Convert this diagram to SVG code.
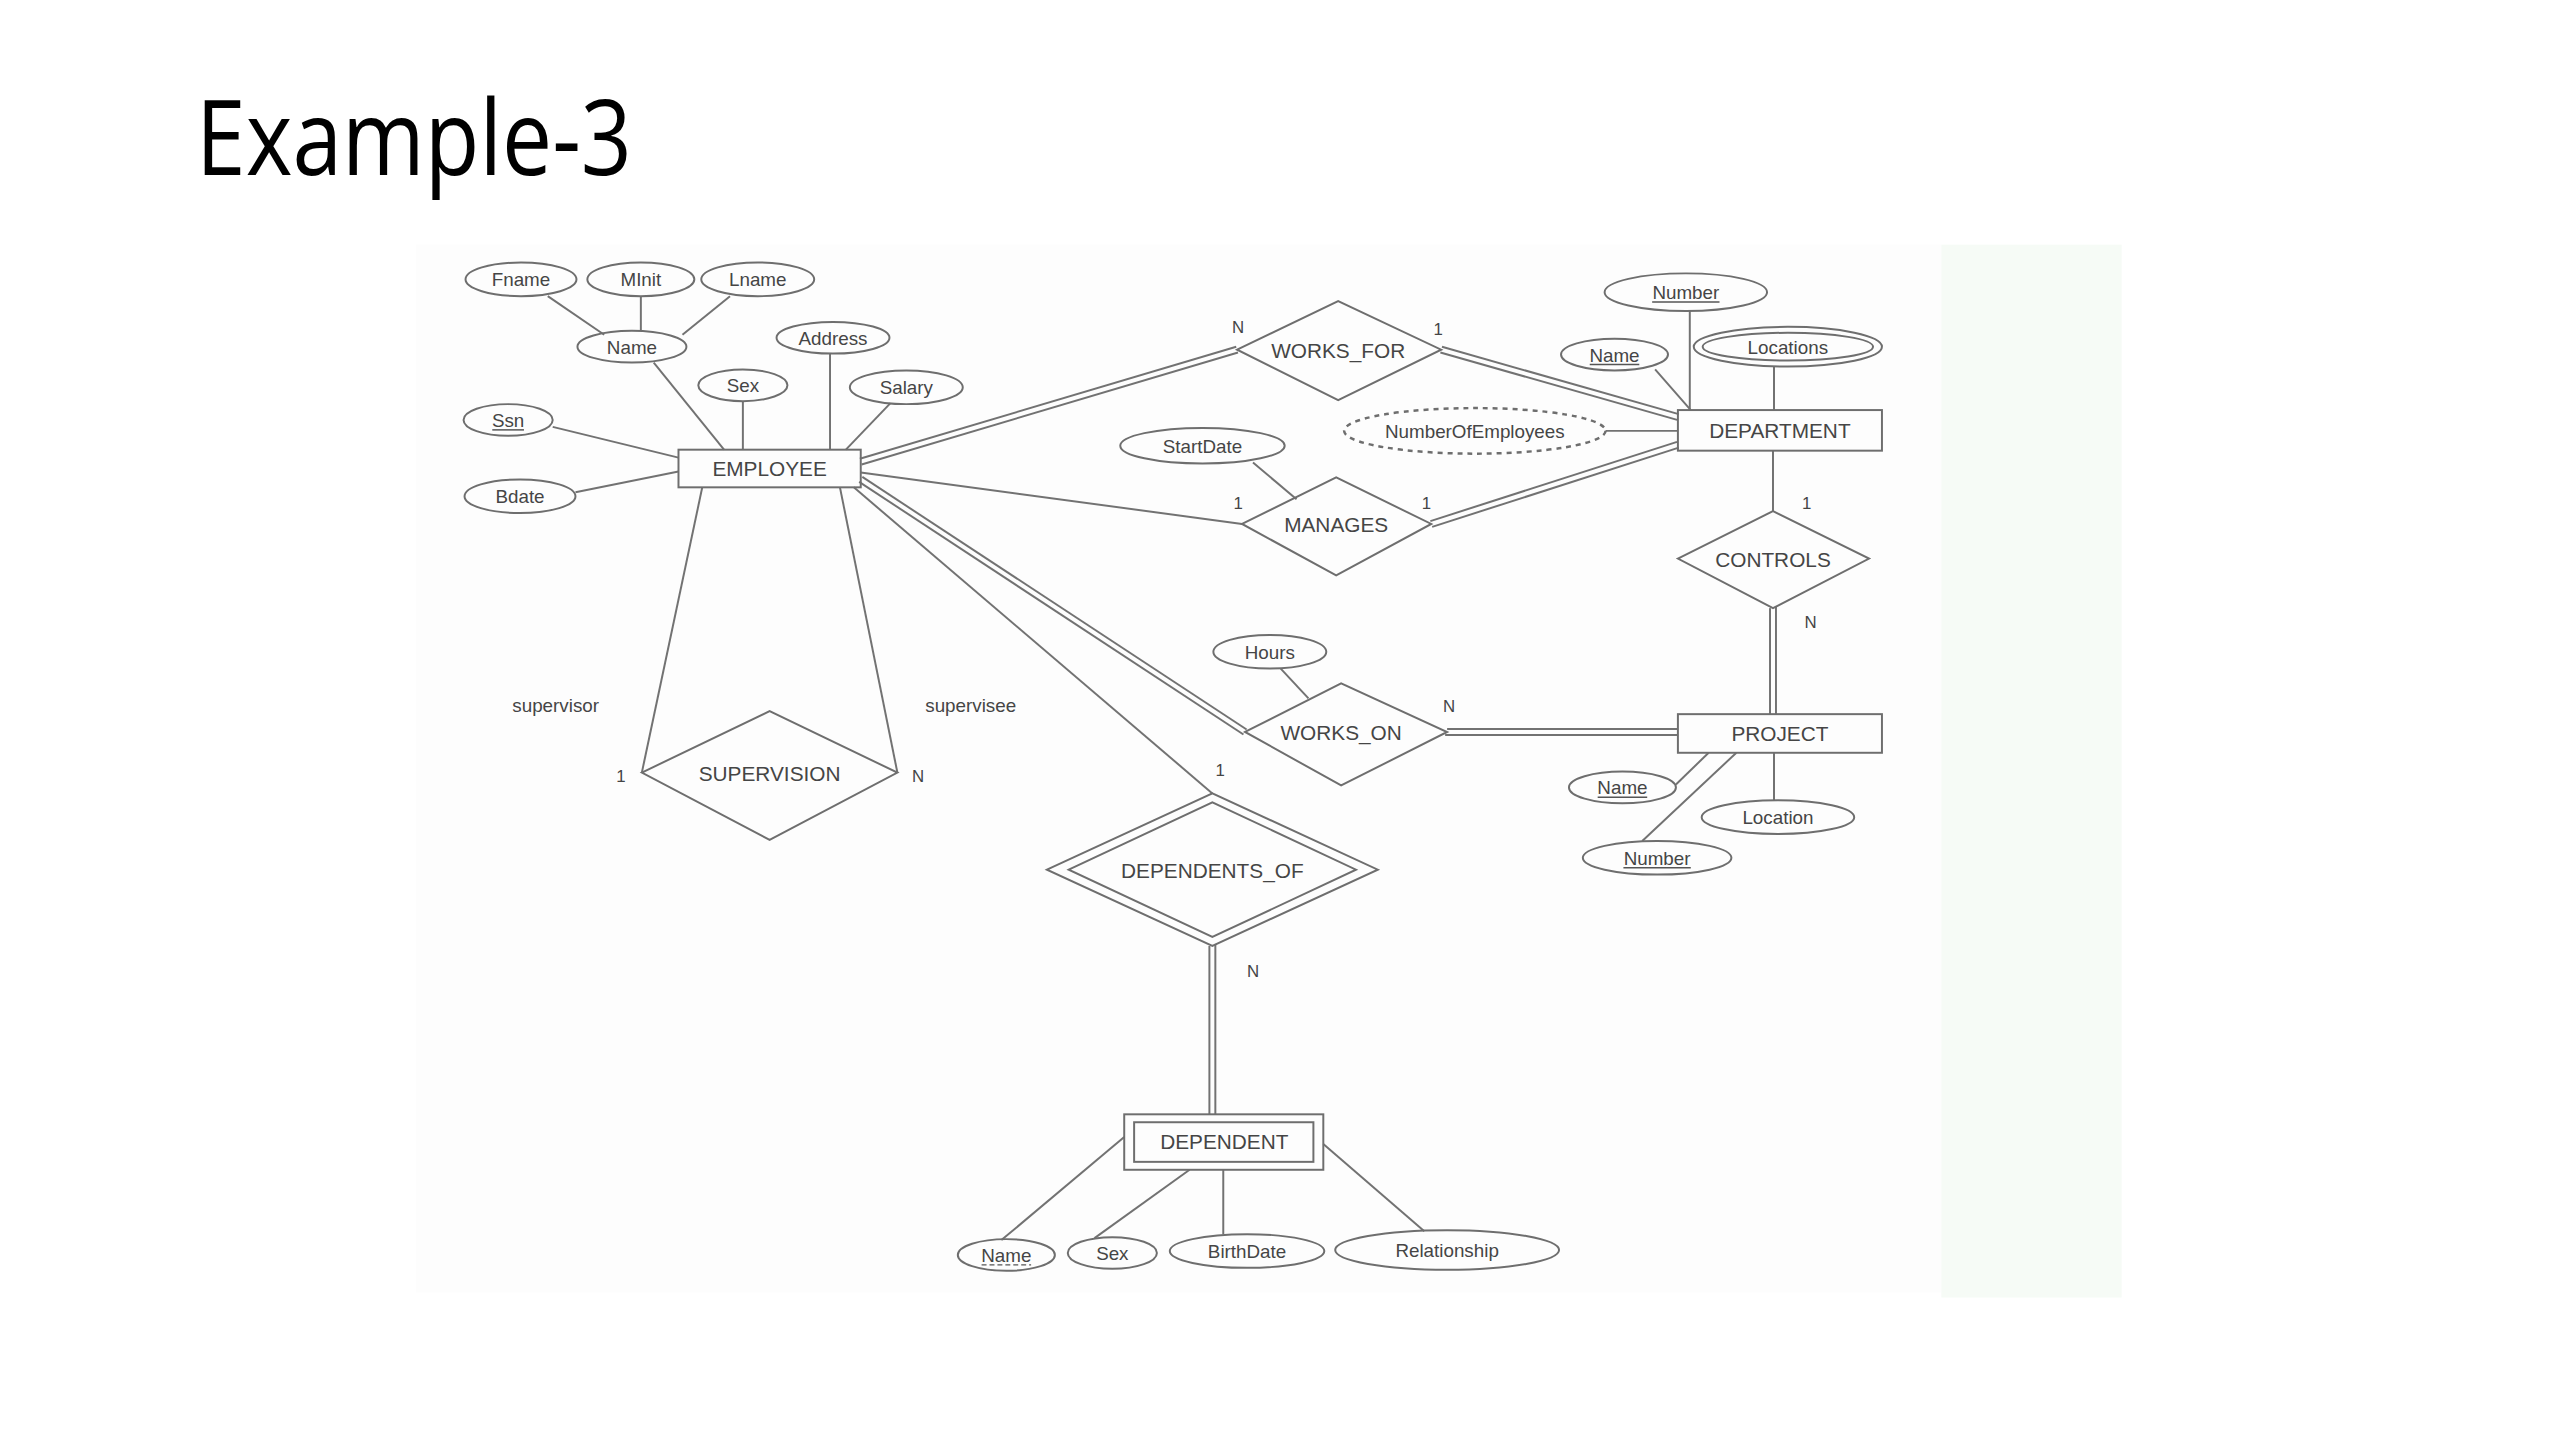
<svg xmlns="http://www.w3.org/2000/svg" width="2560" height="1440" viewBox="0 0 2560 1440">
<style>
.sh{fill:none;stroke:#6e6e6e;stroke-width:2}
.ln{stroke:#727272;stroke-width:2;fill:none}
.dash{fill:none;stroke:#6e6e6e;stroke-width:2.5;stroke-dasharray:5 5}
.ul{stroke:#555;stroke-width:1.5}
.uld{stroke:#555;stroke-width:1.5;stroke-dasharray:5 3}
text{font-family:"Liberation Sans",Arial,sans-serif;fill:#454545;text-anchor:middle}
.big{font-size:21px}
.att{font-size:19px}
.card{font-size:17px}
.title{font-family:"Open Sans","Noto Sans",sans-serif;font-size:106px;fill:#000;text-anchor:start}
</style>
<rect width="2560" height="1440" fill="#ffffff"/>
<g id="page" transform="scale(0.9905)">
<rect x="420" y="247" width="1540" height="1058" fill="#fdfdfd"/>
<rect x="1960" y="247" width="182" height="1063" fill="#f6fbf6"/>
<text class="title" x="198" y="177" textLength="440" lengthAdjust="spacingAndGlyphs">Example-3</text>

<g id="connectors">
<line class="ln" x1="553" y1="299" x2="610" y2="338"/>
<line class="ln" x1="647" y1="299" x2="647" y2="334"/>
<line class="ln" x1="737" y1="299" x2="689" y2="338"/>
<line class="ln" x1="660" y1="366" x2="731" y2="454"/>
<line class="ln" x1="750" y1="405" x2="750" y2="454"/>
<line class="ln" x1="838" y1="357" x2="838" y2="454"/>
<line class="ln" x1="899" y1="407" x2="854" y2="454"/>
<line class="ln" x1="558" y1="431" x2="685" y2="462"/>
<line class="ln" x1="581" y1="497" x2="685" y2="476"/>
<line class="ln" x1="868.1" y1="463.1" x2="1248.1" y2="350.1"/>
<line class="ln" x1="869.9" y1="468.9" x2="1249.9" y2="355.9"/>
<line class="ln" x1="1455.8" y1="350.1" x2="1694.8" y2="418.1"/>
<line class="ln" x1="1454.2" y1="355.9" x2="1693.2" y2="423.9"/>
<line class="ln" x1="869" y1="477" x2="1254" y2="529"/>
<line class="ln" x1="1444.1" y1="526.1" x2="1693.1" y2="446.1"/>
<line class="ln" x1="1445.9" y1="531.9" x2="1694.9" y2="451.9"/>
<line class="ln" x1="1265" y1="467" x2="1309" y2="504"/>
<line class="ln" x1="1671" y1="373" x2="1707" y2="414"/>
<line class="ln" x1="1706" y1="314" x2="1706" y2="414"/>
<line class="ln" x1="1791" y1="370" x2="1791" y2="414"/>
<line class="ln" x1="1621" y1="435" x2="1694" y2="435"/>
<line class="ln" x1="1790" y1="455" x2="1790" y2="516"/>
<line class="ln" x1="1787" y1="614" x2="1787" y2="721"/>
<line class="ln" x1="1793" y1="612" x2="1793" y2="721"/>
<line class="ln" x1="870.6" y1="481.5" x2="1258.6" y2="736.5"/>
<line class="ln" x1="867.4" y1="486.5" x2="1255.4" y2="741.5"/>
<line class="ln" x1="1461" y1="736" x2="1694" y2="736"/>
<line class="ln" x1="1459" y1="742" x2="1694" y2="742"/>
<line class="ln" x1="1293" y1="675" x2="1321" y2="705"/>
<line class="ln" x1="1692" y1="792" x2="1725" y2="760"/>
<line class="ln" x1="1658" y1="849" x2="1753" y2="760"/>
<line class="ln" x1="1791" y1="808" x2="1791" y2="760"/>
<line class="ln" x1="862" y1="492" x2="1224" y2="801"/>
<line class="ln" x1="1221" y1="955" x2="1221" y2="1125"/>
<line class="ln" x1="1227" y1="953" x2="1227" y2="1125"/>
<line class="ln" x1="709" y1="492" x2="648" y2="780"/>
<line class="ln" x1="848" y1="492" x2="906" y2="780"/>
<line class="ln" x1="1011" y1="1252" x2="1135" y2="1148"/>
<line class="ln" x1="1105" y1="1250" x2="1201" y2="1181"/>
<line class="ln" x1="1235" y1="1246" x2="1235" y2="1181"/>
<line class="ln" x1="1438" y1="1243" x2="1336" y2="1155"/>
<text class="card" x="1250" y="336">N</text>
<text class="card" x="1452" y="338">1</text>
<text class="card" x="1250" y="514">1</text>
<text class="card" x="1440" y="514">1</text>
<text class="card" x="1824" y="514">1</text>
<text class="card" x="1828" y="634">N</text>
<text class="card" x="1463" y="719">N</text>
<text class="card" x="1232" y="783">1</text>
<text class="card" x="1265" y="986">N</text>
<text class="card" x="627" y="790">1</text>
<text class="card" x="927" y="790">N</text>
<text class="att" x="561" y="719">supervisor</text>
<text class="att" x="980" y="719">supervisee</text>
</g>

<g id="employee">
<rect class="sh" x="685" y="454" width="184" height="38" fill="#fff"/>
<text class="big" x="777" y="481">EMPLOYEE</text>
</g>
<g id="emp-fname"><ellipse class="sh" cx="526" cy="282" rx="56" ry="17"/><text class="att" x="526" y="289">Fname</text></g>
<g id="emp-minit"><ellipse class="sh" cx="647" cy="282" rx="54" ry="17"/><text class="att" x="647" y="289">MInit</text></g>
<g id="emp-lname"><ellipse class="sh" cx="765" cy="282" rx="57" ry="17"/><text class="att" x="765" y="289">Lname</text></g>
<g id="emp-name"><ellipse class="sh" cx="638" cy="350" rx="55" ry="16"/><text class="att" x="638" y="357">Name</text></g>
<g id="emp-address"><ellipse class="sh" cx="841" cy="341" rx="57" ry="16"/><text class="att" x="841" y="348">Address</text></g>
<g id="emp-sex"><ellipse class="sh" cx="750" cy="389" rx="45" ry="16"/><text class="att" x="750" y="396">Sex</text></g>
<g id="emp-salary"><ellipse class="sh" cx="915" cy="391" rx="57" ry="17"/><text class="att" x="915" y="398">Salary</text></g>
<g id="emp-ssn"><ellipse class="sh" cx="513" cy="424" rx="45" ry="16"/><text class="att" x="513" y="431">Ssn</text><line class="ul" x1="497" y1="434" x2="529" y2="434"/></g>
<g id="emp-bdate"><ellipse class="sh" cx="525" cy="501" rx="56" ry="17"/><text class="att" x="525" y="508">Bdate</text></g>

<g id="works_for">
<polygon class="sh" points="1249,353 1351,304 1455,353 1351,404" fill="#fff"/>
<text class="big" x="1351" y="361">WORKS_FOR</text>
</g>
<g id="manages">
<polygon class="sh" points="1254,529 1349,482 1445,529 1349,581" fill="#fff"/>
<text class="big" x="1349" y="537">MANAGES</text>
</g>
<g id="mgr-startdate"><ellipse class="sh" cx="1214" cy="450" rx="83" ry="18"/><text class="att" x="1214" y="457">StartDate</text></g>

<g id="department">
<rect class="sh" x="1694" y="414" width="206" height="41" fill="#fff"/>
<text class="big" x="1797" y="442">DEPARTMENT</text>
</g>
<g id="dept-number"><ellipse class="sh" cx="1702" cy="295" rx="82" ry="19"/><text class="att" x="1702" y="302">Number</text><line class="ul" x1="1668" y1="305" x2="1736" y2="305"/></g>
<g id="dept-name"><ellipse class="sh" cx="1630" cy="358" rx="54" ry="16"/><text class="att" x="1630" y="365">Name</text><line class="ul" x1="1605" y1="368" x2="1655" y2="368"/></g>
<g id="dept-locations"><ellipse class="sh" cx="1805" cy="350" rx="95" ry="20"/><ellipse class="sh" cx="1805" cy="350" rx="86" ry="14"/><text class="att" x="1805" y="357">Locations</text></g>
<g id="dept-numemp"><ellipse class="dash" cx="1489" cy="435" rx="132" ry="23"/><text class="att" x="1489" y="442">NumberOfEmployees</text></g>

<g id="controls">
<polygon class="sh" points="1694,564 1790,516 1887,564 1790,614" fill="#fff"/>
<text class="big" x="1790" y="572">CONTROLS</text>
</g>

<g id="project">
<rect class="sh" x="1694" y="721" width="206" height="39" fill="#fff"/>
<text class="big" x="1797" y="748">PROJECT</text>
</g>
<g id="proj-name"><ellipse class="sh" cx="1638" cy="795" rx="54" ry="16"/><text class="att" x="1638" y="802">Name</text><line class="ul" x1="1613" y1="805" x2="1663" y2="805"/></g>
<g id="proj-location"><ellipse class="sh" cx="1795" cy="825" rx="77" ry="17"/><text class="att" x="1795" y="832">Location</text></g>
<g id="proj-number"><ellipse class="sh" cx="1673" cy="866" rx="75" ry="17"/><text class="att" x="1673" y="873">Number</text><line class="ul" x1="1639" y1="876" x2="1707" y2="876"/></g>

<g id="works_on">
<polygon class="sh" points="1257,739 1354,690 1461,739 1354,793" fill="#fff"/>
<text class="big" x="1354" y="747">WORKS_ON</text>
</g>
<g id="wo-hours"><ellipse class="sh" cx="1282" cy="658" rx="57" ry="17"/><text class="att" x="1282" y="665">Hours</text></g>

<g id="supervision">
<polygon class="sh" points="648,780 777,718 906,780 777,848" fill="#fff"/>
<text class="big" x="777" y="788">SUPERVISION</text>
</g>

<g id="dependents_of">
<polygon class="sh" points="1057,878 1224,801 1391,878 1224,955" fill="#fff"/>
<polygon class="sh" points="1079,878 1224,810 1369,878 1224,946"/>
<text class="big" x="1224" y="886">DEPENDENTS_OF</text>
</g>

<g id="dependent">
<rect class="sh" x="1135" y="1125" width="201" height="56" fill="#fff"/>
<rect class="sh" x="1145" y="1133" width="181" height="40"/>
<text class="big" x="1236" y="1160">DEPENDENT</text>
</g>
<g id="dep-name"><ellipse class="sh" cx="1016" cy="1267" rx="49" ry="16"/><text class="att" x="1016" y="1274">Name</text><line class="uld" x1="991" y1="1277" x2="1041" y2="1277"/></g>
<g id="dep-sex"><ellipse class="sh" cx="1123" cy="1265" rx="45" ry="16"/><text class="att" x="1123" y="1272">Sex</text></g>
<g id="dep-birthdate"><ellipse class="sh" cx="1259" cy="1263" rx="78" ry="17"/><text class="att" x="1259" y="1270">BirthDate</text></g>
<g id="dep-relationship"><ellipse class="sh" cx="1461" cy="1262" rx="113" ry="20"/><text class="att" x="1461" y="1269">Relationship</text></g>
</g>
</svg>
